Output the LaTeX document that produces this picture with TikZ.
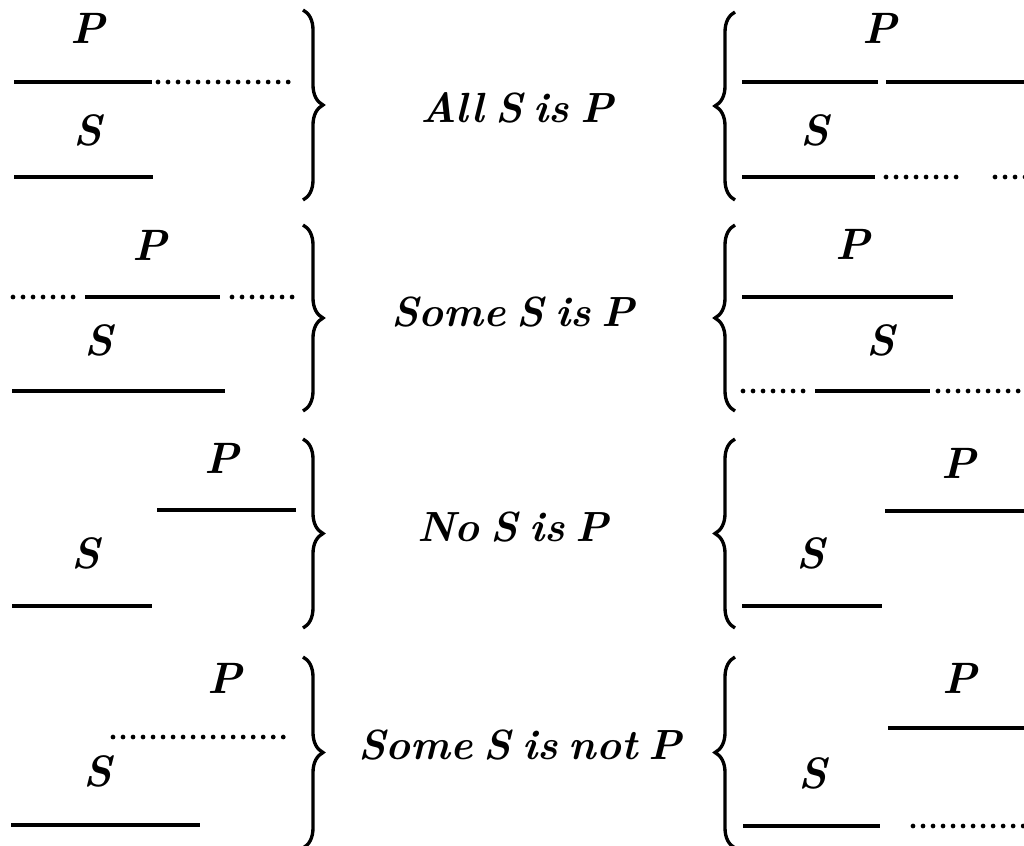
\documentclass[tikz,border=0pt]{standalone}
\usetikzlibrary{decorations.pathreplacing}
\newcommand\tightwords{\spaceskip 0.26em\relax}
\begin{document}
\begin{tikzpicture}[x=0.02cm,y=-0.02cm,
  term/.style={font=\fontsize{25}{30}\selectfont\bfseries\itshape,inner sep=0pt},
  verdict/.style={font=\fontsize{24}{29}\selectfont\bfseries\itshape\tightwords,inner sep=0pt},
  full/.style={line width=1.8pt},
  dots/.style={line width=2.7pt,line cap=round,dash pattern=on 0pt off 5.7pt},
  rbrace/.style={decorate,decoration={brace,amplitude=0.4cm},line width=1.9pt}]
  \useasboundingbox (0,0) rectangle (1024,845);
  % row 1: All S is P
  \node[term] (p1l) at (88,28) {P};
  \node[term] (s1l) at (88,130) {S};
  \draw[full] (14,82) -- (152,82);
  \draw[dots] (158,82) -- (295,82);
  \draw[full] (14,177) -- (153,177);
  \draw[rbrace] (303,10) -- (303,200);
  \node[verdict] (lab1) at (517,108) {All S is P};
  \draw[rbrace] (735,200) -- (735,12);
  \node[term] (p1r) at (880,28) {P};
  \node[term] (s1r) at (815,130) {S};
  \draw[full] (742,82) -- (878,82);
  \draw[full] (886,82) -- (1024,82);
  \draw[full] (742,177) -- (875,177);
  \draw[dots] (886,177) -- (963,177);
  \draw[dots] (995,177) -- (1030,177);
  % row 2: Some S is P
  \node[term] (p2l) at (150,245) {P};
  \node[term] (s2l) at (99,340) {S};
  \draw[dots] (13,297) -- (78,297);
  \draw[full] (85,297) -- (220,297);
  \draw[dots] (232,297) -- (293,297);
  \draw[full] (12,391) -- (225,391);
  \draw[rbrace] (303,225) -- (303,411);
  \node[verdict] (lab2) at (513,312) {Some S is P};
  \draw[rbrace] (735,411) -- (735,225);
  \node[term] (p2r) at (853,244) {P};
  \node[term] (s2r) at (881,340) {S};
  \draw[full] (742,297) -- (953,297);
  \draw[dots] (743,391) -- (810,391);
  \draw[full] (815,391) -- (930,391);
  \draw[dots] (938,391) -- (1030,391);
  % row 3: No S is P
  \node[term] (p3l) at (222,458) {P};
  \node[term] (s3l) at (86,553) {S};
  \draw[full] (157,510) -- (296,510);
  \draw[full] (12,606) -- (152,606);
  \draw[rbrace] (303,439) -- (303,628);
  \node[verdict] (lab3) at (513,527) {No S is P};
  \draw[rbrace] (735,628) -- (735,439);
  \node[term] (p3r) at (959,463) {P};
  \node[term] (s3r) at (811,553) {S};
  \draw[full] (885,511) -- (1024,511);
  \draw[full] (742,606) -- (882,606);
  % row 4: Some S is not P
  \node[term] (p4l) at (225,678) {P};
  \node[term] (s4l) at (98,771) {S};
  \draw[dots] (113,737) -- (293,737);
  \draw[full] (11,825) -- (200,825);
  \draw[rbrace] (303,657) -- (303,848);
  \node[verdict] (lab4) at (520,745) {Some S is not P};
  \draw[rbrace] (735,848) -- (735,657);
  \node[term] (p4r) at (960,678) {P};
  \node[term] (s4r) at (813,773) {S};
  \draw[full] (888,728) -- (1024,728);
  \draw[full] (743,826) -- (880,826);
  \draw[dots] (913,826) -- (1030,826);
\end{tikzpicture}
\end{document}
